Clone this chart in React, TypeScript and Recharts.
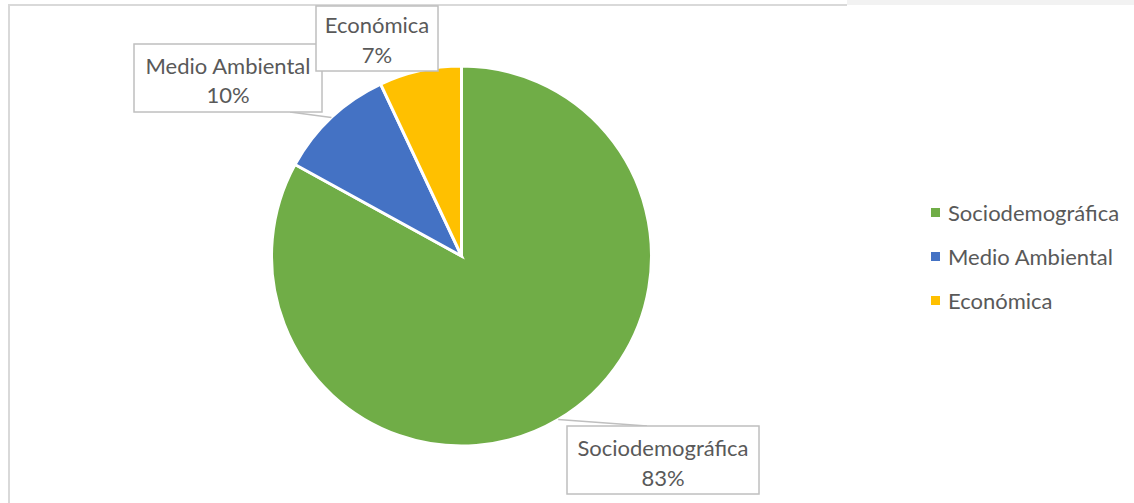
import React from 'react';
import { PieChart, Pie, Cell, Legend } from 'recharts';

const categories = ['Sociodemográfica', 'Medio Ambiental', 'Económica'];
const values = [83, 10, 7];
const colors = ['#70AD47', '#4472C4', '#FFC000'];

const data = categories.map((name, i) => ({ name, value: values[i] }));

const FONT = 'Lato, "Liberation Sans", sans-serif';
const FONT_SIZE = 22;
const TEXT_COLOR = '#595959';
const BOX_STROKE = '#bfbfbf';

// label box layout, relative to pie centre (layout only, not data)
const labelLayout: Record<string, { dx: number; dy: number; w: number; h: number; t1: number; t2: number; leader?: { ex: number; ey: number } }> = {
  'Sociodemográfica': { dx: 201.5, dy: 204, w: 192, h: 68, t1: -13, t2: 17, leader: { ex: -16, ey: -34 } },
  'Medio Ambiental': { dx: -233.5, dy: -178, w: 188, h: 68, t1: -13, t2: 16, leader: { ex: 62, ey: 34 } },
  'Económica': { dx: -84.5, dy: -217.5, w: 122, h: 65, t1: -14, t2: 16 },
};

const RAD = Math.PI / 180;

const renderLabel = (props: any) => {
  const { cx, cy, midAngle, outerRadius, percent } = props;
  const name = props.name ?? props.payload?.name;
  const L = labelLayout[name];
  if (!L) return null;
  const bx = cx + L.dx;
  const by = cy + L.dy;
  const sx = cx + outerRadius * Math.cos(-midAngle * RAD);
  const sy = cy + outerRadius * Math.sin(-midAngle * RAD);
  return (
    <g>
      {L.leader && (
        <line x1={sx} y1={sy} x2={bx + L.leader.ex} y2={by + L.leader.ey} stroke={BOX_STROKE} strokeWidth={1.5} />
      )}
      <rect x={bx - L.w / 2} y={by - L.h / 2} width={L.w} height={L.h} fill="#fff" stroke={BOX_STROKE} strokeWidth={1.5} />
      <text x={bx} y={by + L.t1} textAnchor="middle" dominantBaseline="central" fill={TEXT_COLOR} fontFamily={FONT} fontSize={FONT_SIZE}>
        {name}
      </text>
      <text x={bx} y={by + L.t2} textAnchor="middle" dominantBaseline="central" fill={TEXT_COLOR} fontFamily={FONT} fontSize={FONT_SIZE}>
        {`${Math.round(percent * 100)}%`}
      </text>
    </g>
  );
};

const renderLegend = () => (
  <div style={{ fontFamily: FONT, fontSize: FONT_SIZE, color: TEXT_COLOR }}>
    {categories.map((c, i) => (
      <div key={c} style={{ height: 44, display: 'flex', alignItems: 'center', whiteSpace: 'nowrap' }}>
        <span style={{ display: 'inline-block', width: 9, height: 9, background: colors[i], marginRight: 8 }} />
        <span>{c}</span>
      </div>
    ))}
  </div>
);

export default function App() {
  return (
    <div style={{ position: 'absolute', left: 0, top: 0, width: 1134, height: 503, overflow: 'hidden', background: '#fff' }}>
      <div style={{ position: 'absolute', left: 847, top: 0, width: 287, height: 5, background: '#f2f2f2' }} />
      <div style={{ position: 'absolute', left: 8, top: 4, width: 839, height: 1.5, background: '#d9d9d9' }} />
      <div style={{ position: 'absolute', left: 7.5, top: 4, width: 2, height: 499, background: '#d9d9d9' }} />
      <div style={{ position: 'absolute', left: 0, top: 0 }}>
        <PieChart width={1134} height={503} margin={{ top: 0, right: 0, bottom: 0, left: 0 }}>
          <Pie
            data={data}
            dataKey="value"
            nameKey="name"
            cx={461.5}
            cy={256}
            outerRadius={190}
            startAngle={90}
            endAngle={-270}
            stroke="#fff"
            strokeWidth={3}
            label={renderLabel}
            labelLine={false}
            isAnimationActive={false}
          >
            {data.map((d, i) => (
              <Cell key={d.name} fill={colors[i]} />
            ))}
          </Pie>
          <Legend content={renderLegend} wrapperStyle={{ position: 'absolute', left: 931, top: 190, width: 200 }} />
        </PieChart>
      </div>
    </div>
  );
}
